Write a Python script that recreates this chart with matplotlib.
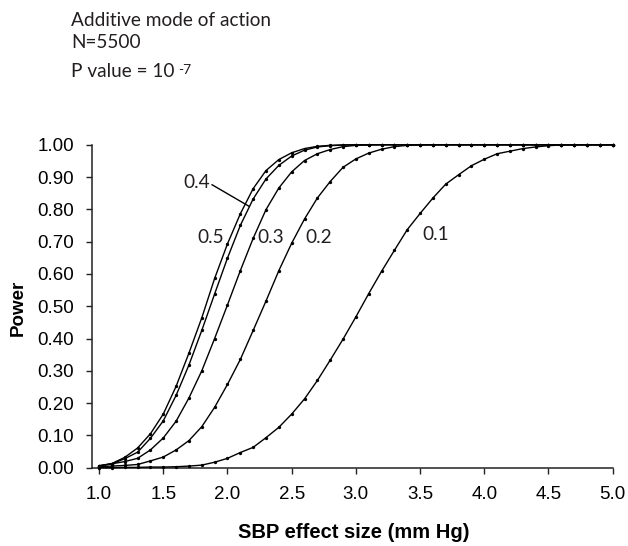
import matplotlib
matplotlib.use("Agg")
import matplotlib.pyplot as plt

plt.rcParams['font.family'] = ['Liberation Sans', 'DejaVu Sans']

# effect size grid (mm Hg)
effect = [1.0, 1.1, 1.2, 1.3, 1.4, 1.5, 1.6, 1.7, 1.8, 1.9,
          2.0, 2.1, 2.2, 2.3, 2.4, 2.5, 2.6, 2.7, 2.8, 2.9,
          3.0, 3.1, 3.2, 3.3, 3.4, 3.5, 3.6, 3.7, 3.8, 3.9,
          4.0, 4.1, 4.2, 4.3, 4.4, 4.5, 4.6, 4.7, 4.8, 4.9, 5.0]

# power per allele frequency
power_05 = [0.006, 0.013, 0.032, 0.061, 0.105, 0.166, 0.252, 0.355, 0.464, 0.586,
            0.693, 0.786, 0.864, 0.920, 0.954, 0.975, 0.988, 0.995, 0.998, 0.999,
            1.0, 1.0, 1.0, 1.0, 1.0, 1.0, 1.0, 1.0, 1.0, 1.0,
            1.0, 1.0, 1.0, 1.0, 1.0, 1.0, 1.0, 1.0, 1.0, 1.0, 1.0]
power_04 = [0.005, 0.012, 0.028, 0.048, 0.091, 0.145, 0.224, 0.318, 0.425, 0.538,
            0.649, 0.750, 0.832, 0.894, 0.936, 0.965, 0.983, 0.993, 0.997, 0.999,
            1.0, 1.0, 1.0, 1.0, 1.0, 1.0, 1.0, 1.0, 1.0, 1.0,
            1.0, 1.0, 1.0, 1.0, 1.0, 1.0, 1.0, 1.0, 1.0, 1.0, 1.0]
power_03 = [0.006, 0.012, 0.019, 0.029, 0.055, 0.092, 0.144, 0.216, 0.300, 0.400,
            0.504, 0.610, 0.710, 0.799, 0.866, 0.916, 0.951, 0.972, 0.985, 0.994,
            0.998, 0.999, 1.0, 1.0, 1.0, 1.0, 1.0, 1.0, 1.0, 1.0,
            1.0, 1.0, 1.0, 1.0, 1.0, 1.0, 1.0, 1.0, 1.0, 1.0, 1.0]
power_02 = [0.003, 0.005, 0.007, 0.010, 0.021, 0.033, 0.055, 0.084, 0.127, 0.187,
            0.258, 0.335, 0.425, 0.516, 0.610, 0.695, 0.770, 0.835, 0.886, 0.930,
            0.956, 0.974, 0.986, 0.994, 0.998, 0.999, 1.0, 1.0, 1.0, 1.0,
            1.0, 1.0, 1.0, 1.0, 1.0, 1.0, 1.0, 1.0, 1.0, 1.0, 1.0]
power_01 = [0.000, 0.000, 0.001, 0.001, 0.002, 0.002, 0.003, 0.005, 0.008, 0.017,
            0.029, 0.047, 0.063, 0.093, 0.125, 0.166, 0.213, 0.270, 0.333, 0.398,
            0.467, 0.539, 0.608, 0.673, 0.737, 0.787, 0.835, 0.878, 0.907, 0.935,
            0.955, 0.972, 0.980, 0.988, 0.993, 0.997, 0.999, 1.0, 1.0, 1.0, 1.0]

curves = [power_05, power_04, power_03, power_02, power_01]

# curve labels: text, x, y (baseline)
labels = ['0.4', '0.5', '0.3', '0.2', '0.1']
label_x = [1.758, 1.866, 2.336, 2.708, 3.623]
label_y = [0.865, 0.697, 0.697, 0.697, 0.705]

xticks = [1.0, 1.5, 2.0, 2.5, 3.0, 3.5, 4.0, 4.5, 5.0]
yticks = [0.0, 0.1, 0.2, 0.3, 0.4, 0.5, 0.6, 0.7, 0.8, 0.9, 1.0]

ann_font = 'Lato'
ann_color = '#231f20'
ann_size = 13.7

fig = plt.figure(figsize=(6.28, 5.46), dpi=100)
ax = fig.add_axes([92 / 628, 1 - 467.7 / 546, (612.7 - 92) / 628, 323 / 546])

for p in curves:
    ax.plot(effect, p, color='black', lw=1.0, marker='o', markersize=2.4,
            markeredgewidth=0, clip_on=False, zorder=3)

ax.set_xlim(0.945, 5.0)
ax.set_ylim(0, 1.0)
ax.set_xticks(xticks)
ax.set_xticklabels([f"{v:.1f}" for v in xticks])
ax.set_yticks(yticks)
ax.set_yticklabels([f"{v:.2f}" for v in yticks])

for s in ['top', 'right']:
    ax.spines[s].set_visible(False)
for s in ['left', 'bottom']:
    ax.spines[s].set_linewidth(1.1)
    ax.spines[s].set_color('#222222')
ax.tick_params(direction='out', length=4.5, width=1.0, color='#222222',
               labelsize=13.5, pad=8.5)

ax.set_xlabel('SBP effect size (mm Hg)', fontsize=14.5, fontweight='bold', va='baseline')
ax.xaxis.set_label_coords(0.502, -0.2177)
ax.set_ylabel('Power', fontsize=13.5, fontweight='bold', va='center')
ax.yaxis.set_label_coords(-0.142, 0.495)

for txt, lx, ly in zip(labels, label_x, label_y):
    ax.text(lx, ly, txt, fontsize=ann_size, family=ann_font, color=ann_color,
            ha='center', va='baseline')

# leader line for the 0.4 curve
ax.plot([1.88, 2.165], [0.876, 0.81], color='black', lw=1.0)

# header text
fig.text(71 / 628, 1 - 26 / 546, 'Additive mode of action', fontsize=ann_size,
         family=ann_font, color=ann_color, va='baseline')
fig.text(71 / 628, 1 - 48.3 / 546, 'N=5500', fontsize=ann_size,
         family=ann_font, color=ann_color, va='baseline')
fig.text(71 / 628, 1 - 77.3 / 546, 'P value = 10', fontsize=ann_size,
         family=ann_font, color=ann_color, va='baseline')
fig.text(178.5 / 628, 1 - 73.5 / 546, '-7', fontsize=10,
         family=ann_font, color=ann_color, va='baseline')

fig.savefig('out.png', dpi=100)
